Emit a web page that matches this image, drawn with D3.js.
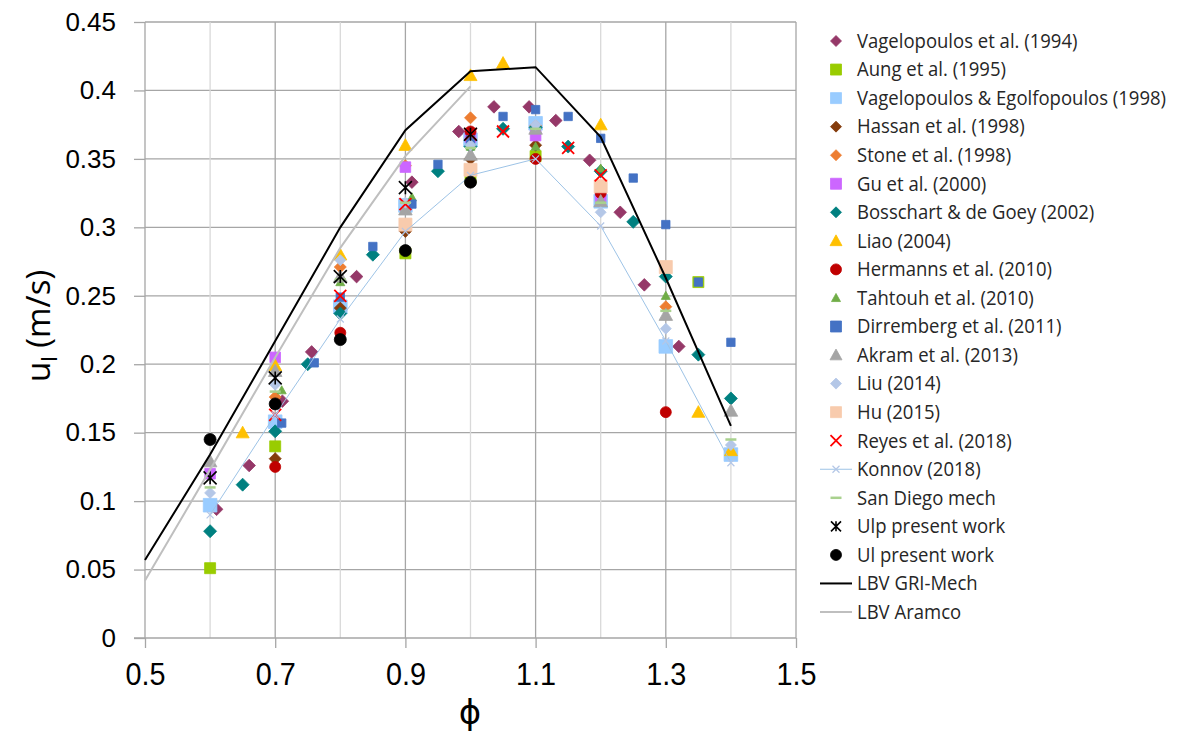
<!DOCTYPE html>
<html>
<head>
<meta charset="utf-8">
<script src="https://cdn.jsdelivr.net/npm/d3@7"></script>
<style>
  html, body { margin: 0; padding: 0; background: #fff; }
  svg { display: block; }
</style>
</head>
<body>
<svg id="chart" width="1177" height="733"></svg>
<script>
// Laminar burning velocity of methane/air flames versus equivalence ratio.
// Each series is a list of [phi, u_l (m/s)] pairs.
const vagelopoulos1994 = [[0.61,0.094],[0.66,0.126],[0.711,0.173],[0.756,0.209],[0.825,0.264],[0.91,0.333],[0.982,0.37],[1.036,0.388],[1.09,0.388],[1.131,0.378],[1.183,0.349],[1.23,0.311],[1.267,0.258],[1.32,0.213]];
const aung1995 = [[0.6,0.051],[0.7,0.14],[0.9,0.281],[1.0,0.336],[1.1,0.352],[1.35,0.26]];
const vagEgolf1998 = [[0.6,0.097],[0.7,0.158],[0.8,0.242],[0.9,0.316],[1.0,0.364],[1.1,0.376],[1.2,0.319],[1.3,0.213],[1.4,0.134]];
const hassan1998 = [[0.7,0.131],[0.8,0.241],[0.9,0.297],[1.0,0.35],[1.1,0.36]];
const stone1998 = [[0.7,0.176],[0.8,0.271],[0.9,0.345],[1.0,0.38],[1.1,0.374],[1.3,0.242]];
const gu2000 = [[0.6,0.12],[0.7,0.205],[0.9,0.344],[1.0,0.366],[1.1,0.367],[1.2,0.322]];
const bosschart2002 = [[0.6,0.078],[0.65,0.112],[0.7,0.151],[0.75,0.2],[0.8,0.237],[0.85,0.28],[0.95,0.341],[1.0,0.359],[1.05,0.372],[1.1,0.373],[1.15,0.359],[1.2,0.341],[1.25,0.304],[1.3,0.264],[1.35,0.207],[1.4,0.175]];
const liao2004 = [[0.65,0.15],[0.7,0.199],[0.8,0.28],[0.9,0.36],[1.0,0.411],[1.05,0.42],[1.2,0.375],[1.35,0.165],[1.4,0.137]];
const hermanns2010 = [[0.7,0.125],[0.8,0.223],[1.0,0.37],[1.1,0.35],[1.2,0.325],[1.3,0.165]];
const tahtouh2010 = [[0.71,0.181],[0.8,0.26],[0.91,0.322],[1.0,0.359],[1.1,0.359],[1.2,0.343],[1.3,0.25]];
const dirremberg2011 = [[0.71,0.157],[0.76,0.201],[0.8,0.249],[0.85,0.286],[0.91,0.317],[0.95,0.346],[1.0,0.364],[1.05,0.381],[1.1,0.386],[1.15,0.381],[1.2,0.365],[1.25,0.336],[1.3,0.302],[1.35,0.26],[1.4,0.216]];
const akram2013 = [[0.6,0.129],[0.7,0.195],[0.8,0.264],[0.9,0.313],[1.0,0.353],[1.1,0.372],[1.2,0.319],[1.3,0.236],[1.4,0.166]];
const liu2014 = [[0.6,0.106],[0.7,0.185],[0.8,0.276],[0.9,0.318],[1.0,0.36],[1.1,0.375],[1.2,0.311],[1.3,0.226],[1.4,0.141]];
const hu2015 = [[0.9,0.302],[1.0,0.342],[1.2,0.33],[1.3,0.271]];
const reyes2018 = [[0.7,0.163],[0.8,0.25],[0.9,0.317],[1.0,0.368],[1.05,0.37],[1.15,0.358],[1.2,0.338]];
const konnov2018 = [[0.6,0.09],[0.7,0.163],[0.8,0.233],[0.9,0.297],[1.0,0.338],[1.1,0.35],[1.2,0.301],[1.3,0.217],[1.4,0.128]];
const sanDiego = [[0.6,0.11],[0.7,0.18],[0.8,0.262],[0.9,0.318],[1.0,0.358],[1.1,0.372],[1.2,0.318],[1.3,0.239],[1.4,0.145]];
const ulpPresent = [[0.6,0.117],[0.7,0.19],[0.8,0.264],[0.9,0.329],[1.0,0.368]];
const ulPresent = [[0.6,0.145],[0.7,0.171],[0.8,0.218],[0.9,0.283],[1.0,0.333]];
const lbvGri = [[0.5,0.057],[0.6,0.134],[0.7,0.217],[0.8,0.3],[0.9,0.371],[1.0,0.414],[1.1,0.417],[1.2,0.366],[1.3,0.263],[1.4,0.155]];
const lbvAramco = [[0.5,0.042],[0.6,0.123],[0.7,0.205],[0.8,0.285],[0.9,0.352],[1.0,0.403]];

const xTicks = [0.5, 0.7, 0.9, 1.1, 1.3, 1.5];
const xGrid = [0.6, 0.7, 0.8, 0.9, 1.0, 1.1, 1.2, 1.3, 1.4, 1.5];
const yTicks = [0, 0.05, 0.1, 0.15, 0.2, 0.25, 0.3, 0.35, 0.4, 0.45];

// Series table: data + how each one is drawn (in draw / legend order)
const series = [
  { name: "Vagelopoulos et al. (1994)", data: vagelopoulos1994, shape: "diamond", size: 6.3, color: "#953868" },
  { name: "Aung et al. (1995)", data: aung1995, shape: "square", size: 5.5, color: "#99cc00" },
  { name: "Vagelopoulos & Egolfopoulos (1998)", data: vagEgolf1998, shape: "square", size: 6.8, color: "#99ccff" },
  { name: "Hassan et al. (1998)", data: hassan1998, shape: "diamond", size: 6, color: "#843c0c" },
  { name: "Stone et al. (1998)", data: stone1998, shape: "diamond", size: 6, color: "#ed7d31" },
  { name: "Gu et al. (2000)", data: gu2000, shape: "square", size: 5.3, color: "#cc66ff" },
  { name: "Bosschart & de Goey (2002)", data: bosschart2002, shape: "diamond", size: 6.5, color: "#008080" },
  { name: "Liao (2004)", data: liao2004, shape: "triangle", size: 6.5, color: "#ffc000" },
  { name: "Hermanns et al. (2010)", data: hermanns2010, shape: "circle", size: 5.5, color: "#c00000" },
  { name: "Tahtouh et al. (2010)", data: tahtouh2010, shape: "triangle", size: 4.5, color: "#70ad47" },
  { name: "Dirremberg et al. (2011)", data: dirremberg2011, shape: "square", size: 4.2, color: "#4472c4" },
  { name: "Akram et al. (2013)", data: akram2013, shape: "triangle", size: 6.8, color: "#a5a5a5" },
  { name: "Liu (2014)", data: liu2014, shape: "diamond", size: 5.5, color: "#b4c7e7" },
  { name: "Hu (2015)", data: hu2015, shape: "square", size: 6.5, color: "#f8cbad" },
  { name: "Reyes et al. (2018)", data: reyes2018, shape: "cross", size: 6, color: "#ff0000" },
  { name: "Konnov (2018)", data: konnov2018, shape: "cross", size: 3.5, color: "#b4c7e7", line: "#9dc3e6", lineWidth: 1 },
  { name: "San Diego mech", data: sanDiego, shape: "dash", size: 5.5, color: "#a9d18e" },
  { name: "Ulp present work", data: ulpPresent, shape: "star", size: 6.5, color: "#000000" },
  { name: "Ul present work", data: ulPresent, shape: "circle", size: 6, color: "#000000" },
  { name: "LBV GRI-Mech", data: lbvGri, shape: null, color: "#000000", line: "#000000", lineWidth: 2 },
  { name: "LBV Aramco", data: lbvAramco, shape: null, color: "#bfbfbf", line: "#bfbfbf", lineWidth: 2 }
];

const svg = d3.select("#chart");
const x = d3.scaleLinear().domain([0.5, 1.5]).range([145, 796]);
const y = d3.scaleLinear().domain([0, 0.45]).range([638, 22]);

// Gridlines
const grid = svg.append("g");
grid.selectAll("line.h").data(yTicks.slice(1)).join("line")
  .attr("x1", x(0.5)).attr("x2", x(1.5))
  .attr("y1", d => y(d)).attr("y2", d => y(d))
  .attr("stroke", "#a6a6a6").attr("stroke-width", 1.3);
grid.selectAll("line.v").data(xGrid).join("line")
  .attr("x1", d => x(d)).attr("x2", d => x(d))
  .attr("y1", y(0)).attr("y2", y(0.45))
  .attr("stroke", d => (Math.round(d * 10) % 2 === 1 || d === 1.5) ? "#a6a6a6" : "#d9d9d9")
  .attr("stroke-width", 1.3);

// Axes
const yAxis = svg.append("g").attr("transform", `translate(${x(0.5)},0)`)
  .call(d3.axisLeft(y).tickValues(yTicks).tickSize(11).tickPadding(18)
    .tickFormat(d => d === 0 ? "0" : d3.format(".2~f")(d)));
yAxis.selectAll("path, line").attr("stroke", "#a6a6a6").attr("stroke-width", 1.3);
yAxis.select(".domain").attr("d", `M-11,${y(0)}H0V${y(0.45)}`);
yAxis.selectAll("text").attr("font-family", "Liberation Sans, Arial, sans-serif")
  .attr("font-size", 26).attr("fill", "#000");

const xAxis = svg.append("g").attr("transform", `translate(0,${y(0)})`)
  .call(d3.axisBottom(x).tickValues(xTicks).tickSize(10).tickPadding(14)
    .tickFormat(d3.format(".1f")));
xAxis.selectAll("path, line").attr("stroke", "#a6a6a6").attr("stroke-width", 1.3);
xAxis.select(".domain").attr("d", `M${x(0.5)},0H${x(1.5)}`);
xAxis.selectAll("text").attr("font-family", "Liberation Sans, Arial, sans-serif")
  .attr("font-size", 32).attr("fill", "#000")
  .attr("transform", "scale(0.9,1)");

// Marker paths centred on the origin
function markerPath(shape, r) {
  switch (shape) {
    case "diamond": return `M0,${-r}L${r},0L0,${r}L${-r},0Z`;
    case "square": return `M${-r},${-r}H${r}V${r}H${-r}Z`;
    case "triangle": return `M0,${-r}L${r},${r * 0.8}L${-r},${r * 0.8}Z`;
    case "circle": return `M${r},0A${r},${r} 0 1,1 ${-r},0A${r},${r} 0 1,1 ${r},0Z`;
    case "cross": return `M${-r},${-r}L${r},${r}M${-r},${r}L${r},${-r}`;
    case "star": return `M${-r},${-r}L${r},${r}M${-r},${r}L${r},${-r}M0,${-r}V${r}`;
    case "dash": return `M${-r},0H${r}`;
  }
  return "";
}
function strokeOf(s) {
  if (s.shape === "cross") return { stroke: s.color, width: s.size > 4 ? 1.8 : 1.2, fill: "none" };
  if (s.shape === "star") return { stroke: s.color, width: 1.6, fill: "none" };
  if (s.shape === "dash") return { stroke: s.color, width: 2.5, fill: "none" };
  return { stroke: s.color, width: 0.8, fill: s.color };
}

const line = d3.line().x(d => x(d[0])).y(d => y(d[1]));
const plot = svg.append("g");
series.forEach(s => {
  const g = plot.append("g");
  if (s.line) {
    g.append("path").datum(s.data).attr("d", line)
      .attr("fill", "none").attr("stroke", s.line).attr("stroke-width", s.lineWidth);
  }
  if (s.shape) {
    const st = strokeOf(s);
    g.selectAll("path.m").data(s.data).join("path").attr("class", "m")
      .attr("transform", d => `translate(${x(d[0])},${y(d[1])})`)
      .attr("d", markerPath(s.shape, s.size))
      .attr("fill", st.fill).attr("stroke", st.stroke).attr("stroke-width", st.width);
  }
});

// Legend
const legend = svg.append("g").attr("transform", "translate(836,41)");
const rowH = 28.55;
series.forEach((s, i) => {
  const g = legend.append("g").attr("transform", `translate(0,${i * rowH})`);
  if (s.line) {
    g.append("line").attr("x1", -16).attr("x2", 16).attr("y1", 0).attr("y2", 0)
      .attr("stroke", s.line).attr("stroke-width", s.lineWidth);
  }
  if (s.shape) {
    const st = strokeOf(s);
    const r = s.shape === "square" ? 5.5 : s.shape === "cross" ? (s.size > 4 ? 5.5 : 3.5) :
      s.shape === "triangle" ? (s.size > 5 ? 6 : 4.5) : s.shape === "star" ? 5 : 5.5;
    g.append("path").attr("d", markerPath(s.shape, r))
      .attr("fill", st.fill).attr("stroke", st.stroke).attr("stroke-width", st.width);
  }
  g.append("text").attr("transform", "translate(21,0) scale(0.95,1)").attr("dy", "0.35em")
    .attr("font-family", "Open Sans, sans-serif").attr("font-size", 19.5)
    .attr("fill", "#262626").text(s.name);
});

// Axis titles
const yt = svg.append("text")
  .attr("transform", "translate(50,326) rotate(-90)")
  .attr("text-anchor", "middle")
  .attr("font-family", "Open Sans, sans-serif").attr("font-size", 33).attr("fill", "#000");
yt.append("tspan").text("u");
yt.append("tspan").attr("font-size", 22).attr("dy", 7).text("l");
yt.append("tspan").attr("dy", -7).text(" (m/s)");

svg.append("text").attr("x", 470).attr("y", 724).attr("text-anchor", "middle")
  .attr("font-family", "DejaVu Sans, sans-serif").attr("font-size", 34).attr("fill", "#000")
  .text("ϕ");
</script>
</body>
</html>
